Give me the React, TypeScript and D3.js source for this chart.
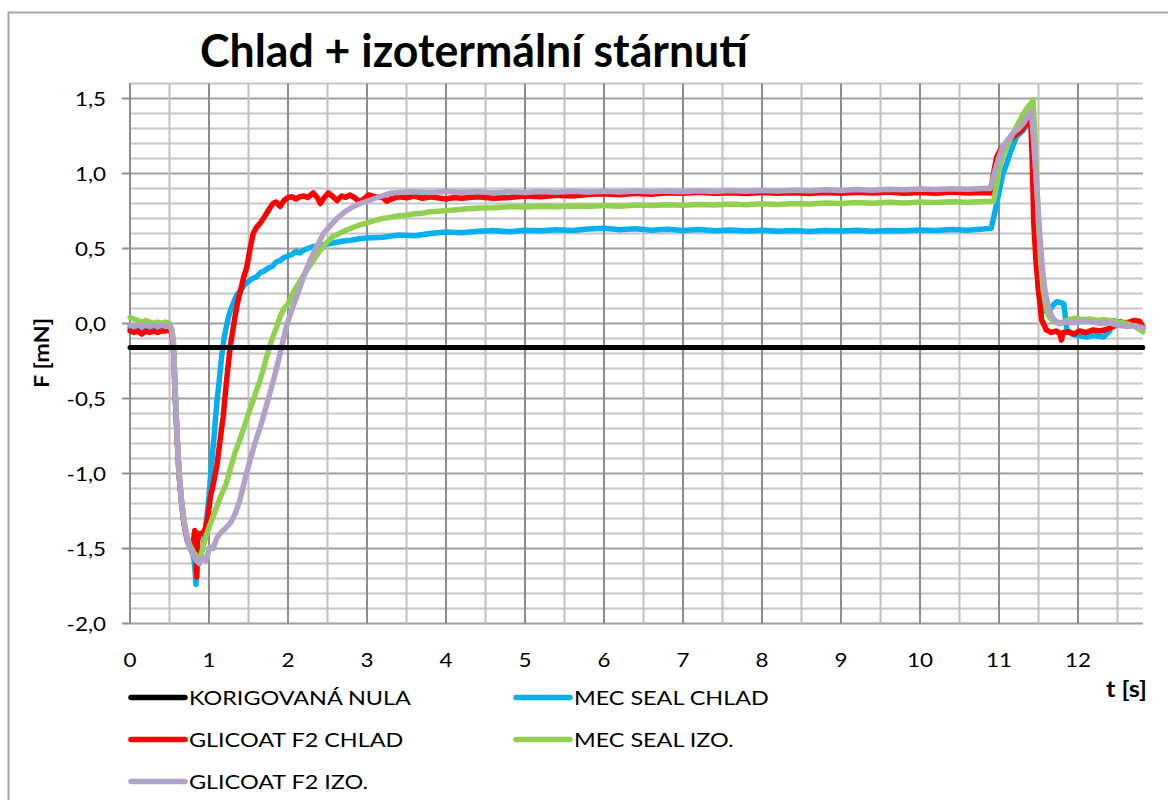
import React from 'react';
import * as d3 from 'd3';

type P = [number, number];

const titleText = 'Chlad + izotermální stárnutí';
const yLabel = 'F [mN]';
const xLabel = 't [s]';
const xTicks = [0, 1, 2, 3, 4, 5, 6, 7, 8, 9, 10, 11, 12];
const yTicks = [-2.0, -1.5, -1.0, -0.5, 0.0, 0.5, 1.0, 1.5];

const korigovanaNula: P[] = [[0, -0.16], [12.82, -0.16]];

const mecSealChlad: P[] = [
  [0, -0.03], [0.05, -0.02], [0.1, -0.03], [0.15, -0.02], [0.2, -0.03], [0.25, -0.02], [0.3, -0.03], [0.35, -0.02],
  [0.4, -0.02], [0.45, -0.03], [0.5, -0.02], [0.53, -0.06], [0.55, -0.15], [0.57, -0.45], [0.6, -0.8], [0.62, -1.0],
  [0.65, -1.18], [0.68, -1.32], [0.72, -1.44], [0.76, -1.5], [0.8, -1.54], [0.82, -1.62], [0.835, -1.74], [0.85, -1.62],
  [0.88, -1.55], [0.92, -1.5], [0.95, -1.4], [0.97, -1.3], [1.0, -1.15], [1.03, -0.95], [1.06, -0.78], [1.1, -0.52],
  [1.13, -0.38], [1.16, -0.22], [1.19, -0.1], [1.22, -0.02], [1.25, 0.05], [1.28, 0.1], [1.31, 0.14], [1.35, 0.19],
  [1.4, 0.22], [1.45, 0.26], [1.5, 0.28], [1.55, 0.3], [1.6, 0.31], [1.65, 0.34], [1.7, 0.35], [1.75, 0.37],
  [1.8, 0.38], [1.85, 0.41], [1.9, 0.42], [1.95, 0.44], [2.0, 0.45], [2.05, 0.46], [2.1, 0.48], [2.15, 0.47],
  [2.2, 0.49], [2.3, 0.51], [2.4, 0.52], [2.5, 0.53], [2.6, 0.54], [2.7, 0.55], [2.8, 0.555], [2.9, 0.565],
  [3.0, 0.57], [3.2, 0.575], [3.4, 0.59], [3.6, 0.585], [3.8, 0.6], [4.0, 0.61], [4.2, 0.605], [4.4, 0.615],
  [4.6, 0.62], [4.8, 0.612], [5.0, 0.622], [5.2, 0.618], [5.4, 0.625], [5.6, 0.62], [5.8, 0.63], [6.0, 0.635],
  [6.2, 0.625], [6.4, 0.632], [6.6, 0.622], [6.8, 0.628], [7.0, 0.62], [7.2, 0.626], [7.4, 0.618], [7.6, 0.624],
  [7.8, 0.616], [8.0, 0.622], [8.2, 0.615], [8.4, 0.62], [8.6, 0.614], [8.8, 0.62], [9.0, 0.616], [9.2, 0.622],
  [9.4, 0.615], [9.6, 0.62], [9.8, 0.618], [10.0, 0.624], [10.2, 0.62], [10.4, 0.626], [10.6, 0.622], [10.8, 0.63],
  [10.9, 0.635], [10.93, 0.7], [10.97, 0.8], [11.01, 0.9], [11.05, 1.0], [11.1, 1.07], [11.14, 1.135], [11.18, 1.19],
  [11.22, 1.245], [11.27, 1.27], [11.31, 1.29], [11.35, 1.32], [11.39, 1.35], [11.41, 1.36], [11.43, 1.1], [11.46, 0.62],
  [11.5, 0.22], [11.53, 0.12], [11.56, 0.09], [11.62, 0.07], [11.68, 0.12], [11.73, 0.145], [11.78, 0.14], [11.82, 0.13],
  [11.86, -0.045], [11.92, -0.07], [12.0, -0.08], [12.11, -0.09], [12.2, -0.08], [12.32, -0.09], [12.4, -0.05], [12.45, 0.02],
  [12.55, 0.0], [12.65, 0.01], [12.75, -0.01], [12.82, -0.02],
];

const glicoatChlad: P[] = [
  [0, -0.05], [0.05, -0.06], [0.1, -0.05], [0.15, -0.07], [0.2, -0.05], [0.25, -0.06], [0.3, -0.05], [0.35, -0.06],
  [0.4, -0.05], [0.45, -0.05], [0.5, -0.04], [0.53, -0.07], [0.55, -0.15], [0.57, -0.45], [0.6, -0.8], [0.62, -1.0],
  [0.65, -1.18], [0.68, -1.32], [0.72, -1.43], [0.76, -1.48], [0.8, -1.46], [0.82, -1.38], [0.835, -1.4], [0.845, -1.69],
  [0.855, -1.45], [0.88, -1.4], [0.92, -1.4], [0.96, -1.36], [0.99, -1.27], [1.02, -1.15], [1.05, -1.08], [1.1, -0.95],
  [1.14, -0.78], [1.18, -0.62], [1.21, -0.45], [1.24, -0.29], [1.27, -0.15], [1.31, -0.02], [1.34, 0.08], [1.37, 0.16],
  [1.4, 0.22], [1.44, 0.31], [1.48, 0.38], [1.52, 0.5], [1.56, 0.6], [1.6, 0.64], [1.65, 0.67], [1.7, 0.71],
  [1.73, 0.735], [1.77, 0.77], [1.81, 0.8], [1.85, 0.81], [1.9, 0.78], [1.95, 0.82], [2.0, 0.84], [2.05, 0.845],
  [2.1, 0.83], [2.15, 0.845], [2.2, 0.85], [2.25, 0.84], [2.32, 0.87], [2.37, 0.84], [2.41, 0.8], [2.46, 0.84],
  [2.51, 0.87], [2.56, 0.85], [2.62, 0.82], [2.68, 0.85], [2.73, 0.84], [2.78, 0.857], [2.84, 0.84], [2.91, 0.81],
  [2.96, 0.83], [3.02, 0.857], [3.1, 0.845], [3.2, 0.84], [3.25, 0.815], [3.3, 0.83], [3.4, 0.845], [3.5, 0.838],
  [3.6, 0.85], [3.7, 0.835], [3.8, 0.845], [4.0, 0.83], [4.1, 0.84], [4.2, 0.835], [4.4, 0.845], [4.6, 0.835],
  [4.8, 0.84], [5.0, 0.85], [5.2, 0.845], [5.4, 0.855], [5.6, 0.85], [5.8, 0.86], [6.0, 0.865], [6.2, 0.858],
  [6.4, 0.868], [6.6, 0.862], [6.8, 0.872], [7.0, 0.868], [7.2, 0.875], [7.4, 0.868], [7.6, 0.872], [7.8, 0.866],
  [8.0, 0.874], [8.2, 0.868], [8.4, 0.872], [8.6, 0.866], [8.8, 0.874], [9.0, 0.868], [9.2, 0.875], [9.4, 0.87],
  [9.6, 0.876], [9.8, 0.868], [10.0, 0.874], [10.2, 0.868], [10.4, 0.876], [10.6, 0.87], [10.8, 0.874], [10.89, 0.87],
  [10.93, 1.0], [10.97, 1.11], [11.01, 1.15], [11.05, 1.18], [11.12, 1.21], [11.18, 1.245], [11.24, 1.27], [11.29, 1.29],
  [11.33, 1.32], [11.37, 1.345], [11.4, 1.37], [11.42, 1.1], [11.44, 0.67], [11.47, 0.4], [11.5, 0.22], [11.54, 0.023],
  [11.6, -0.043], [11.66, -0.06], [11.72, -0.05], [11.77, -0.065], [11.79, -0.11], [11.81, -0.06], [11.88, -0.055], [11.95, -0.07],
  [12.02, -0.05], [12.1, -0.06], [12.19, -0.043], [12.28, -0.05], [12.36, -0.04], [12.45, -0.02], [12.53, 0.012], [12.62, 0.0],
  [12.7, 0.02], [12.78, 0.015], [12.82, -0.02],
];

const mecSealIzo: P[] = [
  [0, 0.04], [0.05, 0.03], [0.1, 0.02], [0.15, 0.01], [0.2, 0.02], [0.25, 0.01], [0.3, 0.0], [0.35, 0.01],
  [0.4, 0.0], [0.45, 0.01], [0.5, 0.0], [0.53, -0.04], [0.55, -0.12], [0.57, -0.42], [0.6, -0.78], [0.62, -0.98],
  [0.65, -1.16], [0.68, -1.3], [0.72, -1.42], [0.76, -1.48], [0.8, -1.52], [0.84, -1.55], [0.88, -1.58], [0.92, -1.5],
  [0.96, -1.42], [1.0, -1.36], [1.05, -1.29], [1.1, -1.22], [1.15, -1.15], [1.22, -1.065], [1.28, -0.95], [1.33, -0.86],
  [1.39, -0.777], [1.45, -0.68], [1.5, -0.6], [1.56, -0.51], [1.62, -0.42], [1.68, -0.32], [1.73, -0.22], [1.8, -0.1],
  [1.86, -0.02], [1.9, 0.045], [1.95, 0.1], [2.0, 0.13], [2.07, 0.21], [2.15, 0.28], [2.24, 0.357], [2.32, 0.42],
  [2.41, 0.49], [2.49, 0.54], [2.57, 0.58], [2.65, 0.6], [2.74, 0.623], [2.82, 0.64], [2.91, 0.657], [3.0, 0.67],
  [3.12, 0.69], [3.2, 0.7], [3.3, 0.708], [3.4, 0.718], [3.5, 0.722], [3.6, 0.732], [3.7, 0.735], [3.8, 0.745],
  [3.9, 0.748], [4.0, 0.752], [4.2, 0.762], [4.4, 0.77], [4.6, 0.772], [4.8, 0.778], [5.0, 0.776], [5.2, 0.782],
  [5.4, 0.778], [5.6, 0.784], [5.8, 0.78], [6.0, 0.786], [6.2, 0.782], [6.4, 0.79], [6.6, 0.786], [6.8, 0.792],
  [7.0, 0.788], [7.2, 0.794], [7.4, 0.79], [7.6, 0.796], [7.8, 0.792], [8.0, 0.798], [8.2, 0.794], [8.4, 0.8],
  [8.6, 0.797], [8.8, 0.803], [9.0, 0.8], [9.2, 0.806], [9.4, 0.802], [9.6, 0.808], [9.8, 0.804], [10.0, 0.81],
  [10.2, 0.806], [10.4, 0.812], [10.6, 0.808], [10.8, 0.814], [10.93, 0.815], [10.97, 0.92], [11.01, 1.045], [11.05, 1.12],
  [11.1, 1.18], [11.16, 1.25], [11.22, 1.31], [11.27, 1.36], [11.31, 1.4], [11.36, 1.44], [11.41, 1.47], [11.43, 1.49],
  [11.45, 1.3], [11.5, 0.67], [11.53, 0.4], [11.56, 0.22], [11.6, 0.1], [11.63, 0.045], [11.7, 0.01], [11.77, 0.0],
  [11.85, 0.02], [11.92, 0.03], [11.98, 0.035], [12.06, 0.025], [12.15, 0.03], [12.25, 0.02], [12.33, 0.025], [12.4, 0.02],
  [12.5, 0.01], [12.62, 0.0], [12.72, -0.02], [12.82, -0.055],
];

const glicoatIzo: P[] = [
  [0, -0.01], [0.05, -0.02], [0.1, -0.01], [0.15, -0.02], [0.2, -0.01], [0.25, -0.02], [0.3, -0.01], [0.35, -0.02],
  [0.4, -0.01], [0.45, -0.02], [0.5, -0.01], [0.53, -0.05], [0.55, -0.13], [0.57, -0.43], [0.6, -0.79], [0.62, -0.99],
  [0.65, -1.17], [0.68, -1.31], [0.72, -1.43], [0.76, -1.5], [0.8, -1.54], [0.84, -1.58], [0.88, -1.6], [0.92, -1.56],
  [0.96, -1.58], [1.01, -1.49], [1.05, -1.5], [1.1, -1.43], [1.14, -1.4], [1.2, -1.37], [1.27, -1.33], [1.33, -1.27],
  [1.39, -1.18], [1.45, -1.05], [1.52, -0.91], [1.58, -0.8], [1.65, -0.69], [1.71, -0.58], [1.77, -0.465], [1.84, -0.33],
  [1.9, -0.2], [1.98, -0.02], [2.04, 0.08], [2.11, 0.18], [2.19, 0.3], [2.28, 0.423], [2.36, 0.51], [2.45, 0.6],
  [2.53, 0.65], [2.62, 0.7], [2.72, 0.745], [2.83, 0.78], [2.91, 0.8], [3.0, 0.815], [3.08, 0.83], [3.16, 0.845],
  [3.29, 0.868], [3.42, 0.875], [3.6, 0.878], [3.8, 0.873], [4.0, 0.88], [4.2, 0.875], [4.4, 0.878], [4.6, 0.872],
  [4.8, 0.878], [5.0, 0.874], [5.2, 0.88], [5.4, 0.875], [5.6, 0.881], [5.8, 0.876], [6.0, 0.882], [6.2, 0.877],
  [6.4, 0.883], [6.6, 0.878], [6.8, 0.884], [7.0, 0.879], [7.2, 0.885], [7.4, 0.88], [7.6, 0.886], [7.8, 0.881],
  [8.0, 0.887], [8.2, 0.883], [8.4, 0.889], [8.6, 0.885], [8.8, 0.891], [9.0, 0.887], [9.2, 0.893], [9.4, 0.889],
  [9.6, 0.895], [9.8, 0.891], [10.0, 0.897], [10.2, 0.893], [10.4, 0.899], [10.6, 0.895], [10.8, 0.9], [10.89, 0.9],
  [10.95, 1.02], [11.0, 1.11], [11.05, 1.18], [11.12, 1.23], [11.18, 1.27], [11.25, 1.3], [11.31, 1.335], [11.35, 1.37],
  [11.39, 1.4], [11.41, 1.42], [11.44, 1.2], [11.48, 0.89], [11.52, 0.557], [11.55, 0.37], [11.58, 0.223], [11.62, 0.12],
  [11.67, 0.045], [11.72, 0.015], [11.77, 0.0], [11.85, 0.01], [11.95, 0.005], [12.05, 0.015], [12.19, 0.012], [12.3, 0.0],
  [12.4, 0.005], [12.5, -0.01], [12.62, -0.02], [12.72, -0.015], [12.83, -0.03],
];

const seriesNames = ['KORIGOVANÁ NULA', 'MEC SEAL CHLAD', 'GLICOAT F2 CHLAD', 'MEC SEAL IZO.', 'GLICOAT F2 IZO.'];
const seriesColors = ['#000000', '#00B0F0', '#FF0000', '#92D050', '#B3A2C7'];
const seriesData = [korigovanaNula, mecSealChlad, glicoatChlad, mecSealIzo, glicoatIzo];

const fmt = (v: number) => v.toFixed(1).replace('.', ',');

export default function App() {
  const W = 1168;
  const H = 800;
  const x = d3.scaleLinear().domain([0, 12.82]).range([130, 1142.8]);
  const y = d3.scaleLinear().domain([-2, 1.6]).range([623.5, 83.5]);
  const line = d3.line<P>().x((d) => x(d[0])).y((d) => y(d[1]));

  const hMinor = d3.range(-20, 17).map((i) => i / 10);
  const vMinor = d3.range(0, 26).map((i) => i / 2);
  const font = 'Lato, "Open Sans", sans-serif';

  const legendPos = [
    { lx: 131, ly: 697.5 },
    { lx: 516, ly: 697.5 },
    { lx: 131, ly: 739.5 },
    { lx: 516, ly: 739.5 },
    { lx: 131, ly: 781.5 },
  ];

  const drawOrder = [1, 2, 3, 4, 0];

  return (
    <svg width={W} height={H} style={{ position: 'absolute', left: 0, top: 0, background: '#fff' }} fontFamily={font}>
      <rect x={0} y={0} width={W} height={H} fill="#fff" />
      <rect x={8.5} y={12.5} width={1300} height={900} fill="none" stroke="#a6a6a6" strokeWidth={2} />
      <text x={474} y={67} textAnchor="middle" fontSize={45} fontWeight={700} textLength={548} lengthAdjust="spacingAndGlyphs" fill="#000">
        {titleText}
      </text>
      {/* gridlines */}
      <g>
        {hMinor.map((v) => {
          const major = Math.abs(Math.round(v * 10) % 5) === 0;
          return (
            <line key={'h' + v} x1={x(0)} x2={x(12.82)} y1={y(v)} y2={y(v)} stroke={major ? '#a0a0a0' : '#c6c6c6'} strokeWidth={2} />
          );
        })}
        {vMinor.map((v) => {
          const major = Number.isInteger(v);
          return (
            <line key={'v' + v} x1={x(v)} x2={x(v)} y1={y(1.6)} y2={y(-2)} stroke={major ? '#8c8c8c' : '#c0c0c0'} strokeWidth={2} />
          );
        })}
      </g>
      {/* y axis */}
      <line x1={x(0)} x2={x(0)} y1={y(1.6)} y2={y(-2)} stroke="#8c8c8c" strokeWidth={2} />
      {yTicks.map((v) => (
        <g key={'yt' + v}>
          <line x1={x(0) - 8} x2={x(0)} y1={y(v)} y2={y(v)} stroke="#8c8c8c" strokeWidth={2} />
          <text transform={`translate(${106},${y(v) + 7}) scale(1.18,1)`} textAnchor="end" fontSize={19} fill="#000">
            {fmt(v)}
          </text>
        </g>
      ))}
      {xTicks.map((v) => (
        <text key={'xt' + v} transform={`translate(${x(v)},${667}) scale(1.18,1)`} textAnchor="middle" fontSize={19} fill="#000">
          {String(v)}
        </text>
      ))}
      {/* series */}
      {drawOrder.map((i) => (
        <path key={'s' + i} d={line(seriesData[i]) || ''} fill="none" stroke={seriesColors[i]} strokeWidth={i === 0 ? 5 : 5.5} strokeLinejoin="round" strokeLinecap="round" />
      ))}
      {/* axis titles */}
      <text transform={`translate(49,353) rotate(-90)`} textAnchor="middle" fontSize={20} fontWeight={700} textLength={70} lengthAdjust="spacingAndGlyphs" fill="#000">
        {yLabel}
      </text>
      <text transform={`translate(1147,697) scale(1.1,1)`} textAnchor="end" fontSize={23} fontWeight={700} fill="#000">
        {xLabel}
      </text>
      {/* legend */}
      {seriesNames.map((name, i) => {
        const p = legendPos[i];
        return (
          <g key={'lg' + i}>
            <line x1={p.lx} x2={p.lx + 54} y1={p.ly} y2={p.ly} stroke={seriesColors[i]} strokeWidth={5.5} strokeLinecap="round" />
            <text transform={`translate(${p.lx + 58},${p.ly + 7}) scale(1.2,1)`} fontSize={19.5} fill="#000">
              {name}
            </text>
          </g>
        );
      })}
    </svg>
  );
}
